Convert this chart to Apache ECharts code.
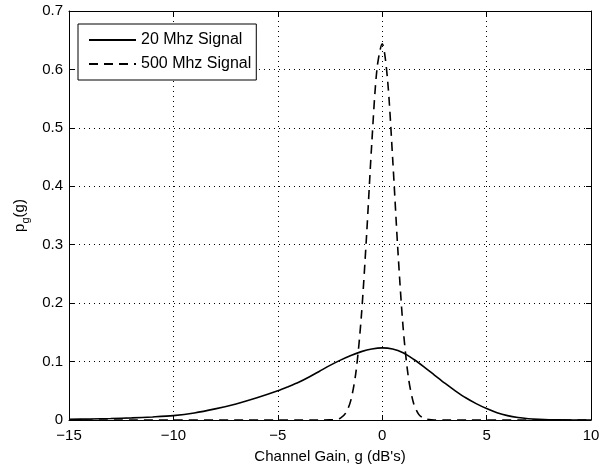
<!DOCTYPE html>
<html>
<head>
<meta charset="utf-8">
<script src="https://cdn.jsdelivr.net/npm/echarts@6/dist/echarts.min.js"></script>
<style>
html,body{margin:0;padding:0;background:#fff;}
#chart{width:615px;height:469px;}
</style>
</head>
<body>
<div id="chart"></div>
<script>
// Channel gain g (dB) sample points and read-off densities
var gain20 = [-15,-14,-13,-12,-11,-10,-9,-8,-7,-6,-5,-4.5,-4,-3.5,-3,-2.5,-2,-1.5,-1,-0.5,0,0.5,1,1.5,2,2.5,3,3.5,4,4.5,5,5.5,6,6.5,7,7.5,8,9,10];
var pdf20  = [0.0012,0.0017,0.0025,0.0036,0.0052,0.0075,0.012,0.019,0.0275,0.038,0.050,0.057,0.0645,0.0735,0.0835,0.0935,0.1025,0.1105,0.117,0.1215,0.1235,0.1215,0.115,0.104,0.091,0.077,0.063,0.050,0.038,0.028,0.0195,0.0125,0.0075,0.0042,0.0022,0.0011,0.0005,0.0001,0];

var gain500 = [-15,-3,-2.5,-2.25,-2,-1.75,-1.5,-1.25,-1,-0.75,-0.5,-0.25,0,0.25,0.5,0.75,1,1.25,1.5,1.75,2,2.25,2.5,3,10];
var pdf500  = [0,0,0.0002,0.0008,0.0033,0.0116,0.034,0.084,0.177,0.315,0.473,0.601,0.644,0.585,0.448,0.291,0.159,0.074,0.029,0.0096,0.0027,0.0006,0.0001,0,0];

var seriesNames = ['20 Mhz Signal', '500 Mhz Signal'];
var xTicks = [-15, -10, -5, 0, 5, 10];
var yTicks = [0, 0.1, 0.2, 0.3, 0.4, 0.5, 0.6, 0.7];

function pairs(xs, ys){ return xs.map(function(x,i){ return [x, ys[i]]; }); }

var FONT = 'Liberation Sans, Arial, Helvetica, sans-serif';
var chart = echarts.init(document.getElementById('chart'), null, {renderer:'canvas'});

var gridLine = {show:true, lineStyle:{color:'#000', width:1, type:[1,4]}};
var tickStyle = {show:true, inside:true, length:5, lineStyle:{color:'#000', width:1}};
var axisLineStyle = {show:true, onZero:false, lineStyle:{color:'#000', width:1}};

var option = {
  animation:false,
  backgroundColor:'#fff',
  grid:{left:69, right:24, top:11, bottom:47, containLabel:false},
  legend:{
    show:true,
    orient:'vertical',
    left:78, top:24,
    padding:[8,5,8,10],
    itemGap:8,
    itemWidth:47, itemHeight:14,
    borderColor:'#000', borderWidth:1,
    backgroundColor:'#fff',
    itemStyle:{opacity:0},
    textStyle:{fontFamily:FONT, fontSize:16, color:'#000'},
    data:seriesNames
  },
  xAxis:[{
    type:'value', min:xTicks[0], max:xTicks[xTicks.length-1], interval:5,
    position:'bottom',
    name:"Channel Gain, g (dB's)", nameLocation:'middle', nameGap:29,
    nameTextStyle:{fontFamily:FONT, fontSize:15, color:'#000'},
    axisLine:axisLineStyle, axisTick:tickStyle, splitLine:gridLine,
    axisLabel:{fontFamily:FONT, fontSize:15, color:'#000', margin:8,
      formatter:function(v){ return String(v).replace('-', '\u2212'); }}
  },{
    type:'value', min:xTicks[0], max:xTicks[xTicks.length-1], interval:5,
    position:'top', axisLine:axisLineStyle, axisTick:tickStyle,
    axisLabel:{show:false}, splitLine:{show:false}
  }],
  yAxis:[{
    type:'value', min:yTicks[0], max:yTicks[yTicks.length-1], interval:0.1,
    position:'left',
    name:'{a|p}{b|g}{a|(g)}', nameLocation:'middle', nameGap:26, nameRotate:90,
    nameTextStyle:{fontFamily:FONT, color:'#000',
      rich:{a:{fontFamily:FONT, fontSize:15, color:'#000', lineHeight:22, verticalAlign:'middle'},
            b:{fontFamily:FONT, fontSize:11, color:'#000', lineHeight:11, verticalAlign:'bottom'}}},
    axisLine:axisLineStyle, axisTick:tickStyle, splitLine:gridLine,
    axisLabel:{fontFamily:FONT, fontSize:15, color:'#000', margin:6,
      formatter:function(v){ return v===0 ? '0' : v.toFixed(1); }}
  },{
    type:'value', min:yTicks[0], max:yTicks[yTicks.length-1], interval:0.1,
    position:'right', axisLine:axisLineStyle, axisTick:tickStyle,
    axisLabel:{show:false}, splitLine:{show:false}
  }],
  series:[{
    name:seriesNames[0], type:'line', xAxisIndex:0, yAxisIndex:0,
    data:pairs(gain20, pdf20), symbol:'none', smooth:0.3, clip:true,
    lineStyle:{color:'#000', width:1.6, type:'solid'},
    itemStyle:{color:'#000'}
  },{
    name:seriesNames[1], type:'line', xAxisIndex:0, yAxisIndex:0,
    data:pairs(gain500, pdf500), symbol:'none', smooth:0.3, clip:true,
    lineStyle:{color:'#000', width:1.6, type:[9,6]},
    itemStyle:{color:'#000'}
  }]
};
chart.setOption(option);
</script>
</body>
</html>
